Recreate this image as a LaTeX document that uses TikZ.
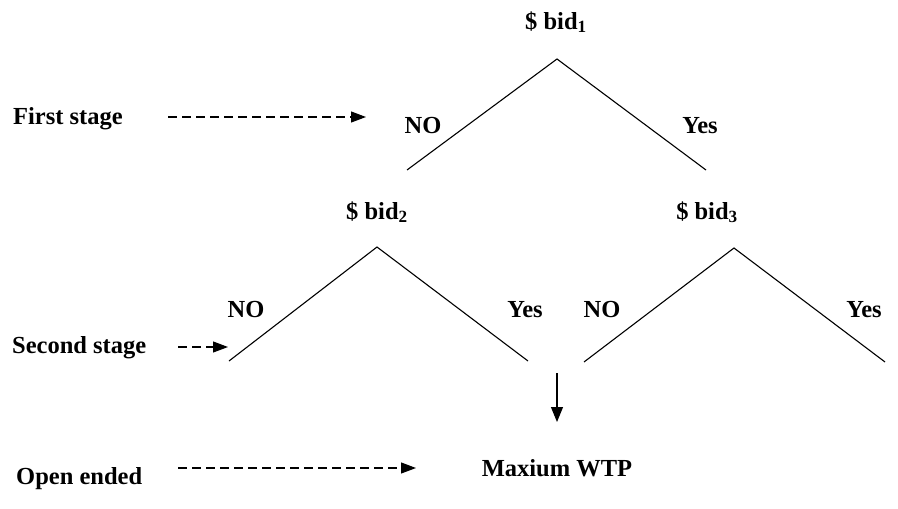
\documentclass[tikz,border=0pt]{standalone}
\usepackage{fontspec}
\setmainfont{Liberation Serif}
\usetikzlibrary{arrows.meta}
\usetikzlibrary{positioning}
\tikzstyle{stagetext}=[anchor=base west,inner sep=0pt]
\tikzstyle{answer}=[anchor=base,inner sep=0pt]
\tikzstyle{bidtext}=[anchor=base,inner sep=0pt]
\tikzstyle{branch}=[line width=1.1pt]
\tikzstyle{pointer}=[-{Triangle[length=15pt,width=11pt]},line width=1.1pt,dash pattern=on 9pt off 5pt]
\tikzstyle{suite}=[-{Triangle[length=15pt,width=12pt]},line width=1.1pt]

\begin{document}
\begin{tikzpicture}[x=1pt,y=-1pt,font=\bfseries\fontsize{24.5}{29}\selectfont]
\useasboundingbox (0,0) rectangle (898,509);
% first stage
\node[bidtext] (bid1) at (556,29) {\$ bid\textsubscript{1}};
\coordinate (top1) at (557,59);
\coordinate (no1) at (407,170);
\coordinate (yes1) at (706,170);
\node[answer] (n1) at (423,133) {NO};
\node[answer] (y1) at (700,133) {Yes};
% second stage
\node[bidtext] (bid2) at (377,219) {\$ bid\textsubscript{2}};
\node[bidtext] (bid3) at (707,219) {\$ bid\textsubscript{3}};
\coordinate (top2) at (377,247);
\coordinate (no2) at (229,361);
\coordinate (yes2) at (528,361);
\coordinate (top3) at (734,248);
\coordinate (no3) at (584,362);
\coordinate (yes3) at (885,362);
\node[answer] (n2) at (246,317) {NO};
\node[answer] (y2) at (525,317) {Yes};
\node[answer] (n3) at (602,317) {NO};
\node[answer] (y3) at (864,317) {Yes};
% open ended
\coordinate (down) at (557,373);
\node[answer] (wtp) at (557,476) {Maxium WTP};
% stage names
\node[stagetext] (s1) at (13,124) {First stage};
\node[stagetext] (s2) at (12,353) {Second stage};
\node[stagetext] (s3) at (16,484) {Open ended};
\coordinate (a1) at (168,117);
\coordinate (b1) at (366,117);
\coordinate (a2) at (178,347);
\coordinate (b2) at (228,347);
\coordinate (a3) at (178,468);
\coordinate (b3) at (416,468);
%lines
\draw[branch] (no1) -- (top1) -- (yes1);
\draw[branch] (no2) -- (top2) -- (yes2);
\draw[branch] (no3) -- (top3) -- (yes3);
\draw[suite] (down) -- ++(0,49);
\draw[pointer] (a1) -- (b1);
\draw[pointer] (a2) -- (b2);
\draw[pointer] (a3) -- (b3);
\end{tikzpicture}
\end{document}
